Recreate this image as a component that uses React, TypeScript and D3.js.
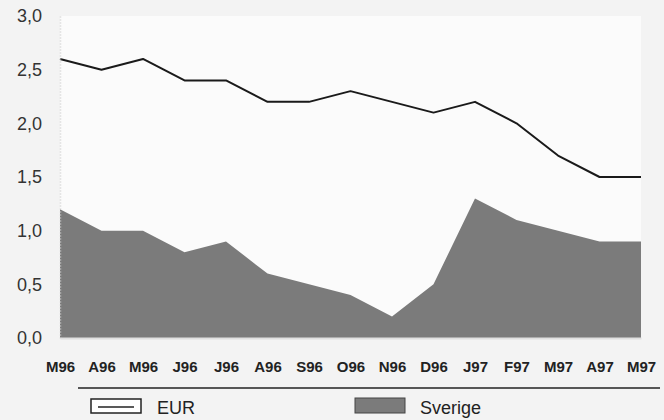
import { useRef, useEffect } from 'react'
import * as d3 from 'd3'

const CATEGORIES = ['M96', 'A96', 'M96', 'J96', 'J96', 'A96', 'S96', 'O96', 'N96', 'D96', 'J97', 'F97', 'M97', 'A97', 'M97']
const EUR = [2.6, 2.5, 2.6, 2.4, 2.4, 2.2, 2.2, 2.3, 2.2, 2.1, 2.2, 2.0, 1.7, 1.5, 1.5]
const SVERIGE = [1.2, 1.0, 1.0, 0.8, 0.9, 0.6, 0.5, 0.4, 0.2, 0.5, 1.3, 1.1, 1.0, 0.9, 0.9]
const Y_TICKS = [0, 0.5, 1.0, 1.5, 2.0, 2.5, 3.0]

const WIDTH = 664
const HEIGHT = 420
const MARGIN = { top: 16, right: 23, bottom: 82, left: 60 }
const FONT = '"Liberation Sans", Arial, sans-serif'
const AREA_COLOR = '#7b7b7b'

export default function App() {
  const svgRef = useRef<SVGSVGElement>(null)

  useEffect(() => {
    if (!svgRef.current) return
    const svg = d3.select(svgRef.current)
    svg.selectAll('*').remove()

    const innerW = WIDTH - MARGIN.left - MARGIN.right
    const innerH = HEIGHT - MARGIN.top - MARGIN.bottom

    svg.append('rect').attr('width', WIDTH).attr('height', HEIGHT).attr('fill', '#f3f3f3')

    const g = svg.append('g').attr('transform', `translate(${MARGIN.left},${MARGIN.top})`)

    const idx = CATEGORIES.map((_, i) => i)
    const x = d3.scalePoint<number>().domain(idx).range([0, innerW])
    const y = d3.scaleLinear().domain([0, 3]).range([innerH, 0])

    // plot background
    g.append('rect').attr('width', innerW).attr('height', innerH).attr('fill', '#fbfbfb')

    // Sverige area
    const area = d3
      .area<number>()
      .x((i) => x(i) ?? 0)
      .y0(y(0))
      .y1((i) => y(SVERIGE[i]))
    g.append('path').datum(idx).attr('d', area).attr('fill', AREA_COLOR)

    // EUR line
    const line = d3
      .line<number>()
      .x((i) => x(i) ?? 0)
      .y((i) => y(EUR[i]))
    g.append('path')
      .datum(idx)
      .attr('d', line)
      .attr('fill', 'none')
      .attr('stroke', '#1a1a1a')
      .attr('stroke-width', 2)
      .attr('stroke-linejoin', 'round')

    // Y axis
    g.append('g')
      .call(
        d3
          .axisLeft(y)
          .tickValues(Y_TICKS)
          .tickSize(0)
          .tickPadding(18)
          .tickFormat((v) => d3.format('.1f')(v as number).replace('.', ',')),
      )
      .call((axis) => {
        axis.select('.domain').attr('stroke', '#cfcfcf').attr('stroke-dasharray', '1,2').attr('stroke-width', 1.5)
        axis.selectAll('text').attr('fill', '#333').style('font-size', '18px').style('font-family', FONT)
      })

    // X axis
    g.append('g')
      .attr('transform', `translate(0,${innerH})`)
      .call(
        d3
          .axisBottom(x)
          .tickSize(0)
          .tickPadding(23)
          .tickFormat((i) => CATEGORIES[i as number]),
      )
      .call((axis) => {
        axis.select('.domain').attr('stroke', '#e0e0e0').attr('stroke-width', 2)
        axis
          .selectAll('text')
          .attr('fill', '#222')
          .style('font-size', '15px')
          .style('font-weight', 'bold')
          .style('font-family', FONT)
      })

    // separator line above legend
    svg.append('line').attr('x1', 78).attr('x2', 660).attr('y1', 388).attr('y2', 388).attr('stroke', '#222').attr('stroke-width', 1.5)

    // legend
    const leg = svg.append('g')
    leg.append('rect').attr('x', 91).attr('y', 399).attr('width', 50).attr('height', 14).attr('fill', '#fff').attr('stroke', '#222').attr('stroke-width', 1.5)
    leg.append('line').attr('x1', 98).attr('x2', 134).attr('y1', 407).attr('y2', 407).attr('stroke', '#222').attr('stroke-width', 1.5)
    leg.append('text').attr('x', 157).attr('y', 414).text('EUR').attr('fill', '#222').style('font-size', '18px').style('font-family', FONT)
    leg.append('rect').attr('x', 355).attr('y', 398).attr('width', 50).attr('height', 15).attr('fill', AREA_COLOR).attr('stroke', '#444').attr('stroke-width', 1)
    leg.append('text').attr('x', 420).attr('y', 414).text('Sverige').attr('fill', '#222').style('font-size', '18px').style('font-family', FONT)
  }, [])

  return (
    <div style={{ position: 'fixed', left: 0, top: 0 }}>
      <svg ref={svgRef} width={WIDTH} height={HEIGHT} style={{ display: 'block' }} />
    </div>
  )
}
